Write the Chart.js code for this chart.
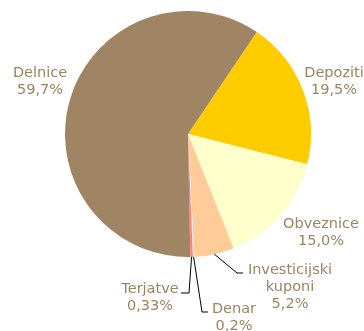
<!DOCTYPE html>
<html>
<head>
<meta charset="utf-8">
<script src="https://cdn.jsdelivr.net/npm/chart.js@4/dist/chart.umd.min.js"></script>
<style>
  html, body { margin: 0; padding: 0; background: #fff; }
  #wrap { width: 364px; height: 331px; position: relative; }
</style>
</head>
<body>
<div id="wrap"><canvas id="portfolioChart"></canvas></div>
<script>
// struktura naložb (delež v %)
const categories = ["Depoziti", "Obveznice", "Investicijski\nkuponi", "Denar", "Terjatve", "Delnice"];
const shares = [19.5, 15.0, 5.2, 0.2, 0.33, 59.7];
const sliceColors = ["#ffcc00", "#ffffcc", "#ffcc99", "#e6e6e6", "#ff8080", "#a08564"];

// label block centres and elbow points of the leader lines
const labelSpots = [
    { x: 334, y: 82 },
    { x: 321, y: 233 },
    { x: 290, y: 287, leader: [[237, 273], [243, 273]] },
    { x: 234, y: 318, leader: [[202, 312], [208, 312]] },
    { x: 150, y: 298, leader: [[189, 293], [181, 293]] },
    { x: 40, y: 82 },
];

function fmtShare(v) {
    let s = Math.round(v * 10) / 10 === v ? v.toFixed(1) : String(v);
    return s.replace(".", ",") + "%";
}

const sliceLabels = {
    id: "sliceLabels",
    afterDatasetsDraw(chart) {
        const ctx = chart.ctx;
        const arcs = chart.getDatasetMeta(0).data;
        ctx.save();
        ctx.font = '14.5px "DejaVu Sans"';
        ctx.textAlign = "center";
        ctx.textBaseline = "middle";
        arcs.forEach((arc, i) => {
            const spot = labelSpots[i];
            if (spot.leader) {
                const p = arc.getProps(["x", "y", "startAngle", "endAngle", "outerRadius"], true);
                const mid = (p.startAngle + p.endAngle) / 2;
                ctx.beginPath();
                ctx.moveTo(p.x + Math.cos(mid) * p.outerRadius, p.y + Math.sin(mid) * p.outerRadius);
                spot.leader.forEach(pt => ctx.lineTo(pt[0], pt[1]));
                ctx.strokeStyle = "#000";
                ctx.lineWidth = 1;
                ctx.stroke();
            }
            const lines = categories[i].split("\n").concat(fmtShare(shares[i]));
            const lh = 17;
            const top = spot.y - (lines.length - 1) * lh / 2;
            ctx.fillStyle = "#9c8462";
            lines.forEach((t, k) => ctx.fillText(t, spot.x, top + k * lh));
        });
        ctx.restore();
    }
};

new Chart(document.getElementById("portfolioChart"), {
    type: "pie",
    data: {
        labels: categories,
        datasets: [{
            data: shares,
            backgroundColor: sliceColors,
            borderWidth: 0,
            hoverOffset: 0,
        }],
    },
    options: {
        responsive: true,
        maintainAspectRatio: false,
        animation: false,
        rotation: 34,
        layout: { padding: { left: 65, right: 53, top: 11, bottom: 74 } },
        plugins: {
            legend: { display: false },
            tooltip: { enabled: false },
        },
    },
    plugins: [sliceLabels],
});
</script>
</body>
</html>
